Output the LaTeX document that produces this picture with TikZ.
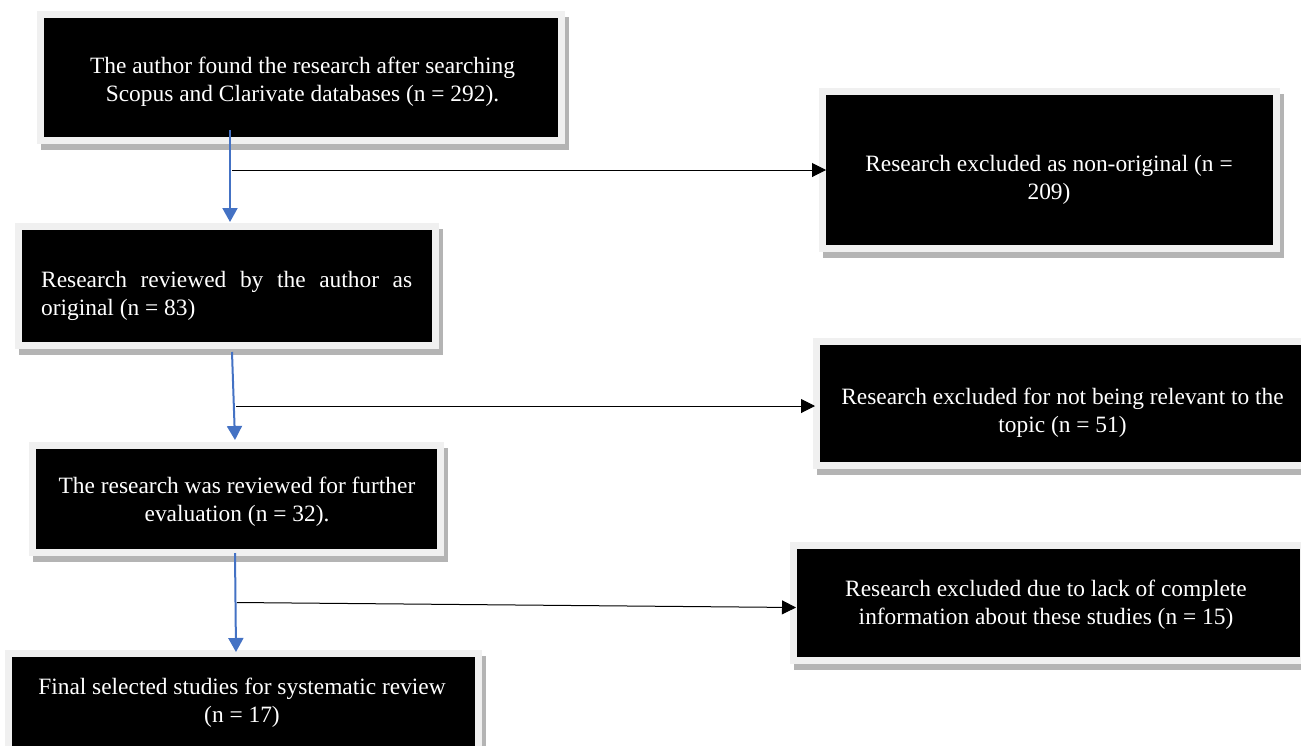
\documentclass[tikz,border=0pt]{standalone}
\usepackage{fontspec}
\setmainfont{Liberation Serif}
\usetikzlibrary{arrows.meta,backgrounds}
\definecolor{framegray}{HTML}{F0F0F0}
\definecolor{shadowgray}{HTML}{B4B4B4}
\definecolor{flowblue}{HTML}{4472C4}
\tikzset{
  box/.style={fill=black, inner sep=0pt, outer sep=0pt},
  txt/.style={text=white, inner sep=0pt, font=\fontsize{23.4}{28}\selectfont, align=center},
  mainarrow/.style={draw=flowblue, line width=2pt, -{Triangle[width=15pt,length=14pt]}},
  sidearrow/.style={draw=black, line width=1pt, -{Triangle[width=14pt,length=14pt]}}
}
\begin{document}
\begin{tikzpicture}[x=1pt,y=-1pt]
\useasboundingbox (0,0) rectangle (1301,745);
% boxes (black inner areas)
\node[box, minimum width=514pt, minimum height=119pt] (b1) at (301,77.5) {};
\node[box, minimum width=447pt, minimum height=150pt] (b2) at (1049.5,170) {};
\node[box, minimum width=410pt, minimum height=112pt] (b3) at (227,285.5) {};
\node[box, minimum width=481pt, minimum height=117pt] (b4) at (1060.5,403.5) {};
\node[box, minimum width=401pt, minimum height=100pt] (b5) at (236.5,499) {};
\node[box, minimum width=503pt, minimum height=108pt] (b6) at (1048.5,603) {};
\node[box, minimum width=463pt, minimum height=100pt] (b7) at (243.5,707) {};
% frames and shadows
\begin{scope}[on background layer]
\foreach \n in {b1,b2,b3,b4,b5,b6,b7} {
  \fill[shadowgray] ([shift={(-3,-1)}]\n.north west) rectangle ([shift={(11,13)}]\n.south east);
  \fill[framegray] ([shift={(-7,-7)}]\n.north west) rectangle ([shift={(7,7)}]\n.south east);
}
\end{scope}
% texts
\node[txt] (t1) at (302.5,82) {The author found the research after searching\\Scopus and Clarivate databases (n = 292).};
\node[txt] (t2) at (1049,180) {Research excluded as non-original (n =\\209)};
\node[txt, align=left, anchor=west] (t3) at (41,295.5) {\makebox[371pt][s]{Research reviewed by the author as}\\original (n = 83)};
\node[txt] (t4) at (1062.5,413) {Research excluded for not being relevant to the\\topic (n = 51)};
\node[txt] (t5) at (237,502) {The research was reviewed for further\\evaluation (n = 32).};
\node[txt] (t6) at (1046,604.5) {Research excluded due to lack of complete\\information about these studies (n = 15)};
\node[txt] (t7) at (242,703) {Final selected studies for systematic review\\(n = 17)};
% connector ends
\coordinate (s1) at (230,130);
\coordinate (e1) at (230,222);
\coordinate (s2) at (232,352);
\coordinate (e2) at (235,440);
\coordinate (s3) at (235,553);
\coordinate (e3) at (236,652);
\coordinate (c1) at (232,170);
\coordinate (c2) at (236,406);
\coordinate (c3) at (237,602.5);
% main flow
\draw[mainarrow] (s1) -- (e1);
\draw[mainarrow] (s2) -- (e2);
\draw[mainarrow] (s3) -- (e3);
% exclusions
\draw[sidearrow] (c1) -- (c1 -| b2.west);
\draw[sidearrow, shorten >=5pt] (c2) -- (c2 -| b4.west);
\draw[sidearrow] (c3) -- ([shift={(-1,4.5)}]b6.west);
\end{tikzpicture}
\end{document}
